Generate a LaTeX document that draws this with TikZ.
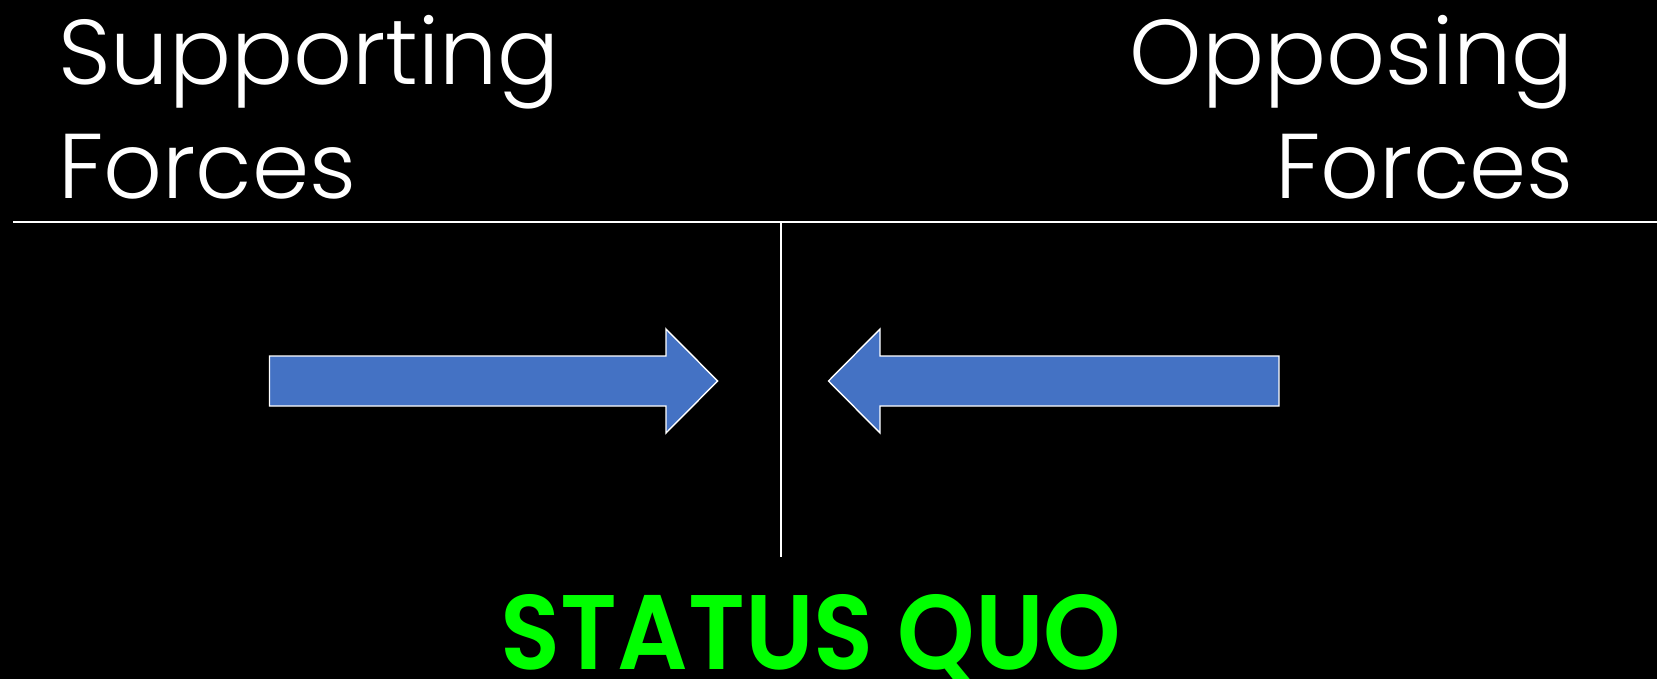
\documentclass[tikz,border=0pt]{standalone}
\usepackage{fontspec}
\setmainfont{Poppins}[UprightFont=* Light, BoldFont=* SemiBold]
\definecolor{forceblue}{HTML}{4472C4}
\definecolor{quogreen}{HTML}{00FF00}
\tikzset{
  heading/.style={text=white, inner sep=0pt, font=\fontsize{92}{114}\selectfont},
  rule/.style={draw=white, line width=1.6pt},
  force/.style={fill=forceblue, draw=white, line width=1.4pt, line join=miter},
  verdict/.style={text=quogreen, inner sep=0pt, xscale=0.93, font=\bfseries\fontsize{106}{120}\selectfont}
}
\begin{document}
\begin{tikzpicture}[x=1pt, y=-1pt]
  \fill[black] (0,0) rectangle (1657,679);
  \useasboundingbox (0,0) rectangle (1657,679);

  % column headings
  \node[heading, anchor=base west] (sup) at (58,84.5) {Supporting};
  \node[heading, anchor=base west] (supf) at (58,198.7) {Forces};
  \node[heading, anchor=base east] (opp) at (1574,84.5) {Opposing};
  \node[heading, anchor=base east] (oppf) at (1574,198.7) {Forces};

  % dividing rules
  \coordinate (hl) at (13,222);
  \coordinate (hr) at (1657,222);
  \coordinate (vt) at (781,222);
  \coordinate (vb) at (781,557);
  \draw[rule] (hl) -- (hr);
  \draw[rule] (vt) -- (vb);

  % force pushing from the left
  \draw[force] (269.5,356) -- (666,356) -- (666,329) -- (717.6,381)
               -- (666,433) -- (666,406) -- (269.5,406) -- cycle;
  % force pushing from the right
  \draw[force] (1279,356) -- (880,356) -- (880,329) -- (828.5,381)
               -- (880,433) -- (880,406) -- (1279,406) -- cycle;

  % outcome
  \node[verdict, anchor=base] (sq) at (811,669) {STATUS QUO};
\end{tikzpicture}
\end{document}
